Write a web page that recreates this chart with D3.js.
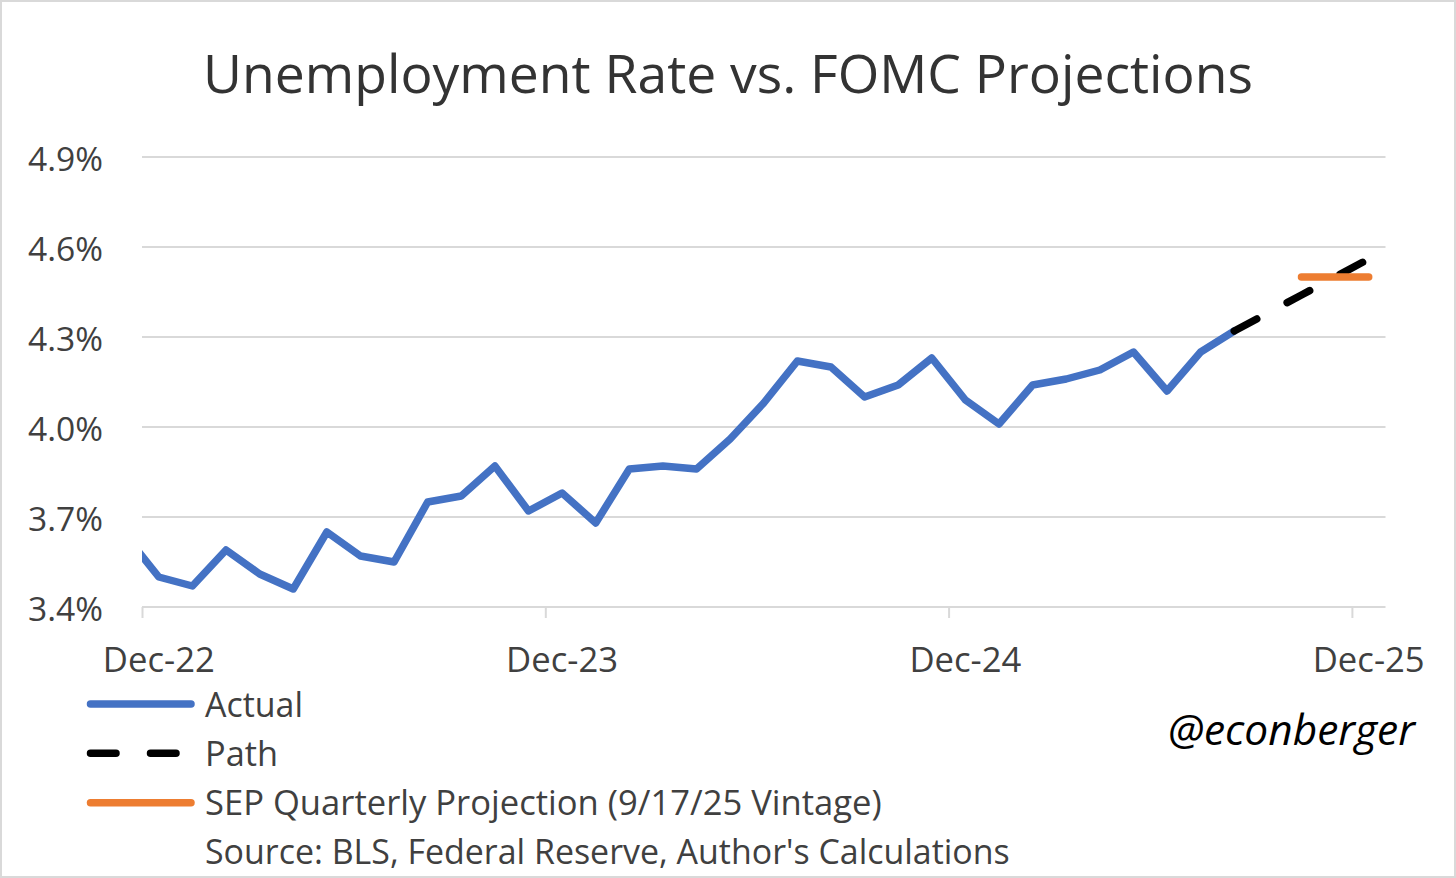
<!DOCTYPE html>
<html>
<head>
<meta charset="utf-8">
<script src="https://cdn.jsdelivr.net/npm/d3@7"></script>
<style>
  html, body { margin: 0; padding: 0; background: #fff; }
  svg { display: block; }
  text { font-family: "Open Sans", "Noto Sans", sans-serif; }
</style>
</head>
<body>
<svg id="chart" width="1456" height="878"></svg>
<script>
// ---------------- DATA ----------------
const actualMonths = ["2022-11","2022-12","2023-01","2023-02","2023-03","2023-04","2023-05","2023-06","2023-07","2023-08","2023-09","2023-10","2023-11","2023-12","2024-01","2024-02","2024-03","2024-04","2024-05","2024-06","2024-07","2024-08","2024-09","2024-10","2024-11","2024-12","2025-01","2025-02","2025-03","2025-04","2025-05","2025-06","2025-07","2025-08"];
const actualValues = [3.64,3.50,3.47,3.59,3.51,3.46,3.65,3.57,3.55,3.75,3.77,3.87,3.72,3.78,3.68,3.86,3.87,3.86,3.96,4.08,4.22,4.20,4.10,4.14,4.23,4.09,4.01,4.14,4.16,4.19,4.25,4.12,4.25,4.32];
const pathMonths = ["2025-08","2025-09","2025-10","2025-11","2025-12"];
const pathValues = [4.32,4.38,4.44,4.50,4.56];
const sepMonths = ["2025-10","2025-11","2025-12"];
const sepValues = [4.5,4.5,4.5];
const yTicks = [3.4,3.7,4.0,4.3,4.6,4.9];
const xTickMonths = ["2022-12","2023-12","2024-12","2025-12"];
const xTickLabels = ["Dec-22","Dec-23","Dec-24","Dec-25"];
const axisStart = "2022-12";
const axisEnd = "2026-01";
const title = "Unemployment Rate vs. FOMC Projections";
const legendItems = ["Actual","Path","SEP Quarterly Projection (9/17/25 Vintage)"];
const sourceText = "Source: BLS, Federal Reserve, Author's Calculations";
const handle = "@econberger";

// ---------------- SETUP ----------------
const svg = d3.select("#chart");
const W = 1456, H = 878;
const parse = d3.timeParse("%Y-%m");
const t0 = parse(axisStart);
const mIdx = s => d3.timeMonth.count(t0, parse(s));

const plot = {left: 142, right: 1385.5, top: 157, bottom: 607};
const x = d3.scaleLinear().domain([0, mIdx(axisEnd)]).range([plot.left, plot.right]);
const y = d3.scaleLinear().domain([3.4, 4.9]).range([plot.bottom, plot.top]);
const xm = s => x(mIdx(s) + 0.5);

const gridColor = "#d9d9d9";
const textColor = "#404040";

// fit text to a target width by scaling font-size
function fit(sel, width) {
  const n = sel.node();
  const fs = parseFloat(sel.attr("font-size"));
  const w = n.getComputedTextLength();
  sel.attr("font-size", fs * width / w);
  return sel;
}

// outer border
svg.append("rect").attr("x", 1).attr("y", 1).attr("width", W - 2).attr("height", H - 2)
  .attr("fill", "#fff").attr("stroke", gridColor).attr("stroke-width", 2);

// title
fit(svg.append("text").attr("x", 728).attr("y", 92.7).attr("text-anchor", "middle")
  .attr("font-size", 48).attr("fill", "#333333").text(title), 1050);

// gridlines
svg.append("g").selectAll("line").data(yTicks.slice(1)).join("line")
  .attr("x1", plot.left).attr("x2", plot.right)
  .attr("y1", d => y(d)).attr("y2", d => y(d))
  .attr("stroke", gridColor).attr("stroke-width", 2);

// y axis labels
const yAxis = d3.axisLeft(y).tickValues(yTicks).tickSize(0).tickPadding(0)
  .tickFormat(d => d3.format(".1f")(d) + "%");
const gy = svg.append("g").attr("transform", "translate(103,0)").call(yAxis);
gy.select(".domain").remove();
gy.selectAll("text").attr("fill", textColor).attr("font-size", 32)
  .attr("font-family", '"Open Sans", "Noto Sans", sans-serif')
  .attr("dy", null).attr("dominant-baseline", "auto")
  .attr("transform", "translate(0,13)")
  .each(function() { fit(d3.select(this), 75); });

// x axis (ticks at Dec-1 of each year)
const xAxis = d3.axisBottom(x).tickValues(xTickMonths.map(mIdx)).tickSize(11).tickFormat("");
const gx = svg.append("g").attr("transform", `translate(0,${plot.bottom})`).call(xAxis);
gx.select(".domain").attr("stroke", gridColor).attr("stroke-width", 2)
  .attr("d", `M${plot.left},0H${plot.right}`);
gx.selectAll(".tick line").attr("stroke", gridColor).attr("stroke-width", 2);

// x labels centered at mid-month
svg.append("g").selectAll("text").data(xTickMonths).join("text")
  .attr("x", d => xm(d)).attr("y", 671.7).attr("text-anchor", "middle")
  .attr("font-size", 32).attr("fill", textColor)
  .text((d, i) => xTickLabels[i])
  .each(function() { fit(d3.select(this), 112); });

// clip
svg.append("clipPath").attr("id", "clip").append("rect")
  .attr("x", plot.left).attr("y", 0).attr("width", plot.right - plot.left + 20).attr("height", H);

const line = d3.line().x(d => xm(d[0])).y(d => y(d[1]));
const g = svg.append("g").attr("clip-path", "url(#clip)");

g.append("path").datum(actualMonths.map((m, i) => [m, actualValues[i]]))
  .attr("d", line).attr("fill", "none").attr("stroke", "#4472C4")
  .attr("stroke-width", 7.5).attr("stroke-linejoin", "round").attr("stroke-linecap", "round");

g.append("path").datum(pathMonths.map((m, i) => [m, pathValues[i]]))
  .attr("d", line).attr("fill", "none").attr("stroke", "#000")
  .attr("stroke-width", 7.5).attr("stroke-dasharray", "25.5,34.5")
  .attr("stroke-linejoin", "round").attr("stroke-linecap", "round");

g.append("path").datum(sepMonths.map((m, i) => [m, sepValues[i]]))
  .attr("d", line).attr("fill", "none").attr("stroke", "#ED7D31")
  .attr("stroke-width", 7.5).attr("stroke-linecap", "round");

// legend
const legY = [704, 753.3, 802.7];
const legStyles = [
  {c: "#4472C4", dash: null, x2: 191},
  {c: "#000", dash: "25.5,34.5", x2: 178},
  {c: "#ED7D31", dash: null, x2: 191}
];
const leg = svg.append("g");
legendItems.forEach((name, i) => {
  leg.append("line").attr("x1", 90.5).attr("x2", legStyles[i].x2)
    .attr("y1", legY[i]).attr("y2", legY[i])
    .attr("stroke", legStyles[i].c).attr("stroke-width", 7.5)
    .attr("stroke-linecap", "round").attr("stroke-dasharray", legStyles[i].dash);
});
const legTextY = [716.7, 766.2, 815.2];
const legTextW = [98, 73, 677];
legendItems.forEach((name, i) => {
  fit(leg.append("text").attr("x", 205).attr("y", legTextY[i])
    .attr("font-size", 32).attr("fill", textColor).text(name), legTextW[i]);
});
fit(leg.append("text").attr("x", 205).attr("y", 864)
  .attr("font-size", 32).attr("fill", textColor).text(sourceText), 805);

// handle
fit(svg.append("text").attr("x", 1168).attr("y", 745).attr("font-style", "italic")
  .attr("font-size", 40).attr("fill", "#000").text(handle), 247);
</script>
</body>
</html>
